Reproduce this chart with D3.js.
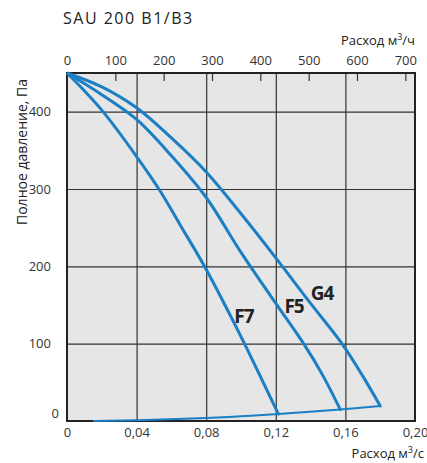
<!DOCTYPE html>
<html>
<head>
<meta charset="utf-8">
<script src="https://cdn.jsdelivr.net/npm/d3@7"></script>
<style>
  body { margin: 0; background: #fff; }
  svg text { font-family: "Open Sans", "Noto Sans", sans-serif; fill: #222; }
  .axis path, .axis line { stroke: none; }
  .grid line { stroke: #333; stroke-width: 1.2; }
  .grid path { stroke: none; }
</style>
</head>
<body>
<svg width="427" height="463"></svg>
<script>
// flow, m3/s and pressure, Pa
var g4Flow = [0, 0.02, 0.04, 0.06, 0.08, 0.1, 0.12, 0.14, 0.158, 0.17, 0.18],
    g4Press = [450, 432, 405, 366, 322, 268, 211, 152, 100, 58, 19.5];
var f5Flow = [0, 0.02, 0.04, 0.06, 0.08, 0.1, 0.12, 0.136, 0.147, 0.157],
    f5Press = [450, 422, 390, 343, 289, 218, 152, 100, 59, 15];
var f7Flow = [0, 0.01, 0.0207, 0.04, 0.0528, 0.066, 0.079, 0.091, 0.102, 0.1215],
    f7Press = [450, 427, 400, 342, 300, 250, 200, 149, 100, 9];
var sysFlow = [0.015, 0.04, 0.08, 0.1, 0.1215, 0.157, 0.18],
    sysPress = [0, 1, 4, 6, 9, 15, 19.5];
var curveNames = ["G4", "F5", "F7"];
var flowTicks = [0, 0.04, 0.08, 0.12, 0.16, 0.20],
    hourTicks = [0, 100, 200, 300, 400, 500, 600, 700],
    pressTicks = [0, 100, 200, 300, 400];

var svg = d3.select("svg"),
    margin = {top: 73, left: 67},
    width = 348,
    height = 348,
    blue = "#1a7fc4";

var x = d3.scaleLinear().domain([0, 0.2]).range([0, width]),
    xh = d3.scaleLinear().domain([0, 0.2 * 3600]).range([0, width]),
    y = d3.scaleLinear().domain([0, 450]).range([height, 0]);

svg.append("text")
    .attr("x", 63).attr("y", 24)
    .style("font-size", "16px").style("letter-spacing", "1.5px")
    .text("SAU 200 B1/B3");

var g = svg.append("g")
    .attr("transform", "translate(" + margin.left + "," + margin.top + ")");

g.append("rect")
    .attr("width", width).attr("height", height)
    .attr("fill", "#e6e6e6");

// grid
g.append("g").attr("class", "grid")
    .attr("transform", "translate(0," + height + ")")
    .call(d3.axisBottom(x).tickValues(flowTicks.slice(1, -1)).tickSize(-height).tickFormat(""));
g.append("g").attr("class", "grid")
    .call(d3.axisLeft(y).tickValues(pressTicks.slice(1)).tickSize(-width).tickFormat(""));

// short ticks for m3/h
g.append("g").attr("class", "grid")
    .call(d3.axisTop(xh).tickValues(hourTicks.slice(1)).tickSize(-8).tickFormat(""));

g.append("rect")
    .attr("width", width).attr("height", height)
    .attr("fill", "none").attr("stroke", "#222").attr("stroke-width", 2);

// tick labels
var fmt = function(d) { return d === 0 ? "0" : d3.format(".2f")(d).replace(".", ","); };
g.append("g").attr("class", "axis")
    .attr("transform", "translate(0," + height + ")")
    .call(d3.axisBottom(x).tickValues(flowTicks).tickSize(0).tickPadding(7).tickFormat(fmt))
    .selectAll("text").style("font-size", "13px").style("fill", "#333");
g.append("g").attr("class", "axis")
    .call(d3.axisTop(xh).tickValues(hourTicks).tickSize(0).tickPadding(8).tickFormat(d3.format("d")))
    .selectAll("text").style("font-size", "13px").style("fill", "#333");
g.append("g").attr("class", "axis")
    .call(d3.axisLeft(y).tickValues(pressTicks).tickSize(0).tickPadding(16).tickFormat(d3.format("d")))
    .selectAll("text").style("font-size", "13px").style("fill", "#333")
    .filter(function(d) { return d === 0; })
    .attr("x", -8).attr("dy", "-0.25em");

// axis titles
function unitLabel(sel, unit) {
  sel.append("tspan").text("Расход м");
  sel.append("tspan").attr("dy", -5).style("font-size", "9px").text("3");
  sel.append("tspan").attr("dy", 5).text("/" + unit);
}
svg.append("text").attr("x", 415).attr("y", 45).attr("text-anchor", "end")
    .style("font-size", "13px").call(unitLabel, "ч");
svg.append("text").attr("x", 424).attr("y", 458).attr("text-anchor", "end")
    .style("font-size", "13px").call(unitLabel, "с");
svg.append("text")
    .attr("transform", "translate(27,152) rotate(-90)")
    .attr("text-anchor", "middle")
    .style("font-size", "14px")
    .text("Полное давление, Па");

// curves
var line = d3.line()
    .x(function(d) { return x(d[0]); })
    .y(function(d) { return y(d[1]); })
    .curve(d3.curveCatmullRom);

var series = [d3.zip(g4Flow, g4Press), d3.zip(f5Flow, f5Press), d3.zip(f7Flow, f7Press)];

g.selectAll(".fan")
    .data(series)
  .enter().append("path")
    .attr("class", "fan")
    .attr("d", line)
    .attr("fill", "none")
    .attr("stroke", blue)
    .attr("stroke-width", 3);

g.append("path")
    .datum(d3.zip(sysFlow, sysPress))
    .attr("d", line)
    .attr("fill", "none")
    .attr("stroke", blue)
    .attr("stroke-width", 2);

// small markers where fan curves meet the system line
g.selectAll(".end")
    .data(series)
  .enter().append("circle")
    .attr("cx", function(d) { return x(d[d.length - 1][0]); })
    .attr("cy", function(d) { return y(d[d.length - 1][1]); })
    .attr("r", 1.5)
    .attr("fill", blue);

// curve labels
var labelAt = [[0.1466, 157], [0.1305, 140], [0.1017, 127]];
g.selectAll(".lbl")
    .data(curveNames)
  .enter().append("text")
    .attr("x", function(d, i) { return x(labelAt[i][0]); })
    .attr("y", function(d, i) { return y(labelAt[i][1]); })
    .attr("text-anchor", "middle")
    .style("font-size", "19px").style("font-weight", "bold")
    .style("letter-spacing", "-1px")
    .text(function(d) { return d; });
</script>
</body>
</html>
